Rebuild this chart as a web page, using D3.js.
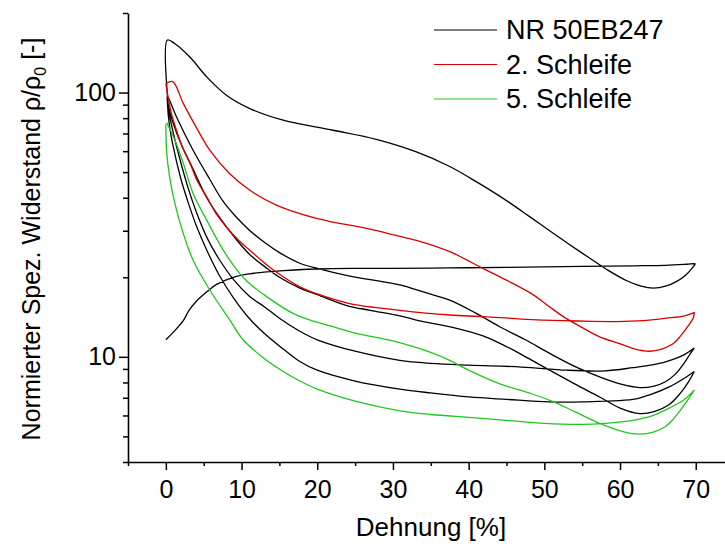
<!DOCTYPE html>
<html><head><meta charset="utf-8">
<script src="https://cdn.jsdelivr.net/npm/d3@7"></script>
<style>body{margin:0;background:#fff}svg text{font-family:Arial,"Liberation Sans",sans-serif}</style>
</head><body><svg id="c" width="725" height="546"></svg>
<script>
// ---- tick values ----
const xTicksMajor=[0,10,20,30,40,50,60,70];
const xTicksMinor=[-5,5,15,25,35,45,55,65,75];
const yTicksMajor=[10,100];
const yTicksMinor=[4,5,6,7,8,9,20,30,40,50,60,70,80,90,200];
const seriesNames=["NR 50EB247","2. Schleife","5. Schleife"];
const seriesColors=["#000000","#dd0000","#1ec81e"];

// ---- data: [Dehnung %, rho/rho0] ----
const load1=[[0,11.6],[1,12.4],[2.3,13.7],[3,14.9],[4,16.2],[5.5,17.7],[6.7,18.8],[8.9,20],[11,20.6],[15.5,21.2],[20,21.5],[25,21.6],[30,21.6],[37.5,21.7],[45,21.8],[55,22],[62,22.1],[66,22.2],[68.8,22.4],[69.9,22.5]];
const unload1=[[69.9,22.4],[69.5,21.6],[68.7,20.4],[67.5,19.3],[66,18.5],[64.4,18.2],[62.8,18.5],[60.9,19.4],[58.5,21.2],[56.4,23.2],[53.5,26.4],[50.7,30],[48,34],[45,39],[41,46],[37.5,52.5],[33.1,59.6],[27.8,66.5],[22.1,72],[15.5,78.6],[11.1,87],[8,97.7],[5.4,114.6],[3.2,136],[1.2,153],[0.2,158]];
const load2=[[0,108],[0.3,96],[0.75,83],[1.4,72],[2.2,62],[3.2,53.9],[4.2,46],[5.4,40.3],[6.6,35],[8,31],[9.5,27.8],[11.1,25.3],[12.6,23.2],[14.2,21.3],[17.7,18.4],[20,17.3],[24.3,15.9],[30.9,15],[37.5,14.4],[41.9,14.2],[47,13.9],[52.5,13.7],[59.5,13.6],[63,13.7],[66.1,14],[68.5,14.3],[69.8,14.7]];
const unload2=[[69.8,14.7],[69.7,14.1],[69,13.1],[68,12],[67,11.2],[65.5,10.7],[63.9,10.5],[62,10.7],[60,11.2],[57.3,11.9],[55,12.9],[52.5,14.2],[50.5,15.6],[48.5,17.2],[45,19.5],[41.9,21.6],[37.5,25],[33.1,27.6],[30,29],[26.5,30.6],[19.9,33.4],[14.6,37.5],[11.1,42.7],[8.4,49.4],[5.8,60.5],[4,74],[2.3,91],[0.9,110],[0,108]];
const load3=[[0.2,98],[0.5,82],[1,70],[2,54],[3,43],[4,35.5],[5.5,28],[7,23.5],[9,19.5],[11,17],[13.1,15.4],[15,14],[17.7,12.5],[20,11.6],[25,10.5],[30.9,9.7],[35,9.45],[40,9.3],[47,9.15],[52.9,8.9],[58,8.85],[61.7,9.1],[64,9.3],[66.1,9.6],[68.5,10.2],[69.8,10.8]];
const unload3=[[69.8,10.8],[69.3,10.3],[68.5,9.5],[67.3,8.6],[66,8.05],[64.5,7.75],[62.6,7.65],[60,7.9],[57.3,8.4],[54,9.2],[50.7,10.3],[47.5,11.6],[44.1,13],[41,14.6],[37.5,16.4],[34,17.6],[30.9,18.7],[27,19.6],[24.3,20.2],[20,21.6],[17.7,22.6],[15,24.8],[13.1,27],[11,30.2],[9.3,33.8],[7.5,39],[5.8,47],[3.6,60.5],[1.4,81],[0.2,97]];
const load4=[[0.2,92],[0.5,74],[1,62],[2,47],[3,38],[4,31.5],[5.5,25],[7,20.5],[9,16.6],[11,14],[13.1,12.2],[15,11],[17.7,9.6],[20,8.9],[25,8.1],[30.9,7.55],[35,7.3],[40,7.05],[45,6.9],[50.7,6.75],[55,6.75],[58,6.8],[61.7,6.9],[64,7.2],[66.5,7.7],[68.5,8.3],[69.8,8.8]];
const unload4=[[69.8,8.8],[69,8.0],[68,7.3],[66.5,6.6],[64.5,6.2],[62.6,6.1],[60,6.4],[57.3,7.05],[54,7.9],[50.7,8.9],[47,10.2],[44,11.3],[41.9,12.0],[38,12.9],[34,13.6],[30.9,14.3],[27,15.0],[24,15.6],[20,17.2],[17.7,18.2],[15,20.0],[13.1,21.9],[11,24.5],[9,28.5],[7,34],[5.4,40],[3.5,52],[2,64],[1,76],[0.2,92]];
const load5=[[0,76],[0.1,60],[0.5,48],[1.2,38],[2.3,29.3],[3.6,23.2],[5.8,17.9],[8.5,13.7],[10.2,11.6],[12.9,9.9],[15.5,8.8],[17.7,8.1],[20,7.55],[25,6.8],[30.9,6.25],[35,6.05],[40,5.9],[45,5.75],[50,5.6],[55,5.55],[58,5.6],[61.7,5.75],[64,5.95],[66.5,6.4],[68.5,6.9],[69.8,7.5]];
const unload5=[[69.8,7.5],[69,6.9],[68,6.3],[67,5.8],[66,5.45],[64.5,5.2],[62.5,5.1],[60.5,5.2],[57.3,5.6],[54,6.2],[51,6.8],[48,7.3],[44.1,7.9],[40,8.9],[37.5,9.7],[35,10.4],[31,11.3],[28.7,11.7],[25,12.3],[22.1,13],[19,13.8],[16.8,14.6],[13.3,16.9],[11,19],[9.8,20.6],[7.6,25.3],[5.4,32.9],[3.6,41.5],[2.3,54],[1.2,66],[0.1,77]];

const series=[
  {name:seriesNames[0],color:seriesColors[0],pts:[...load1,...unload1,...load3,...unload3,...load4,...unload4]},
  {name:seriesNames[1],color:seriesColors[1],pts:[...load2,...unload2]},
  {name:seriesNames[2],color:seriesColors[2],pts:[...load5,...unload5]}
];

const svg=d3.select("#c");
const x=d3.scaleLinear().domain([-5,75]).range([128,733.6]);
const y=d3.scaleLog().domain([4,200]).range([462,13]);

const line=d3.line().x(d=>x(d[0])).y(d=>y(d[1])).curve(d3.curveCatmullRom.alpha(0.5));
svg.append("g").selectAll("path").data(series).join("path")
  .attr("d",d=>line(d.pts)).attr("fill","none").attr("stroke",d=>d.color).attr("stroke-width",1.3);

// axes
const fs=25;
svg.append("g").attr("transform","translate(0,462)")
  .call(d3.axisBottom(x).tickValues(xTicksMajor).tickSize(8).tickSizeOuter(0).tickPadding(10).tickFormat(d3.format("d")));
svg.append("g").attr("transform","translate(0,462)")
  .call(d3.axisBottom(x).tickValues(xTicksMinor).tickSize(4).tickSizeOuter(0).tickFormat(""))
  .select(".domain").remove();
svg.append("g").attr("transform","translate(128,0)")
  .call(d3.axisLeft(y).tickValues(yTicksMajor).tickSize(9).tickSizeOuter(0).tickPadding(3).tickFormat(d3.format("d")));
svg.append("g").attr("transform","translate(128,0)")
  .call(d3.axisLeft(y).tickValues(yTicksMinor).tickSize(5).tickSizeOuter(0).tickFormat(""))
  .select(".domain").remove();
svg.selectAll(".domain").attr("stroke","#000").attr("stroke-width",1.6);
svg.selectAll(".tick line").attr("stroke","#000").attr("stroke-width",1.5);
svg.selectAll(".tick text").attr("font-size",fs).attr("font-family","Arial, Liberation Sans, sans-serif").attr("fill","#000");

// titles
svg.append("text").attr("x",431).attr("y",536).attr("text-anchor","middle").attr("font-size",26).text("Dehnung [%]");
const yt=svg.append("text").attr("transform","translate(40,239) rotate(-90)").attr("text-anchor","middle").attr("font-size",25);
yt.append("tspan").text("Normierter Spez. Widerstand ρ/ρ");
yt.append("tspan").attr("font-size",16).attr("dy",6).text("0");
yt.append("tspan").attr("dy",-6).text(" [-]");

// legend
const lg=svg.append("g");
series.forEach((s,i)=>{
  const yy=30+i*34.5;
  lg.append("line").attr("x1",434).attr("x2",497).attr("y1",yy).attr("y2",yy).attr("stroke",s.color).attr("stroke-width",1.2);
  lg.append("text").attr("x",506).attr("y",yy+9).attr("font-size",27).text(s.name);
});
</script></body></html>
